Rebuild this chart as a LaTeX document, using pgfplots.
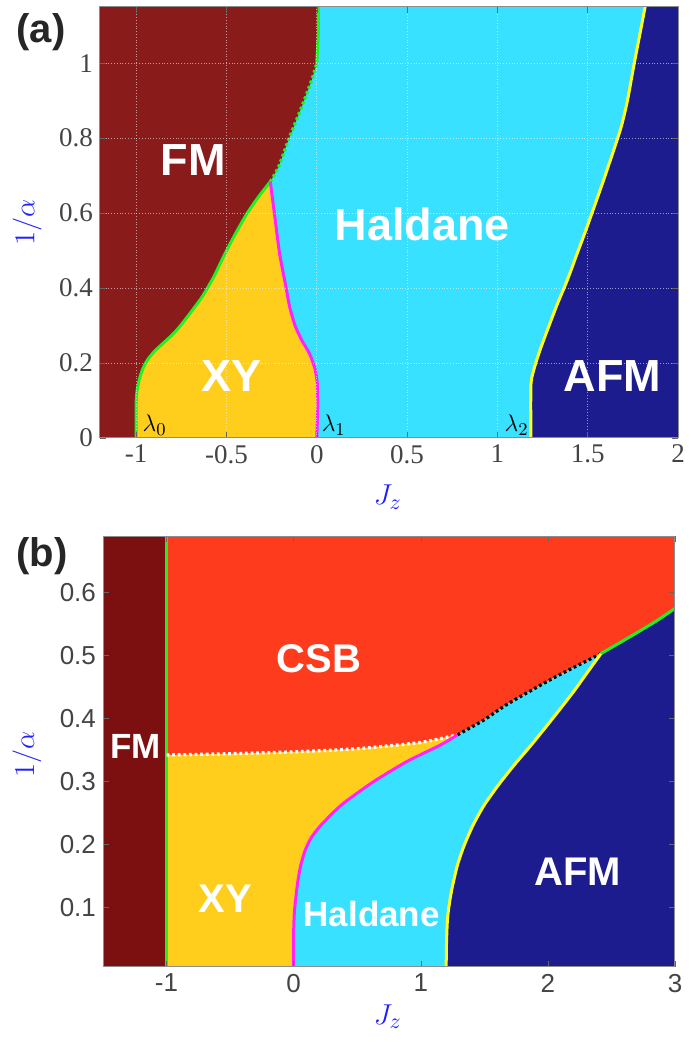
\documentclass[border=0pt]{standalone}
\usepackage{pgfplots}
\pgfplotsset{compat=1.18}
\usepackage{fontspec}
\setmainfont{Liberation Sans}
\newfontfamily\serifticks{Liberation Serif}
\definecolor{fmc}{HTML}{891B1B}
\definecolor{fmb}{HTML}{7C0F0F}
\definecolor{halc}{HTML}{38E1FF}
\definecolor{xyc}{HTML}{FFCE1C}
\definecolor{afmc}{HTML}{1C1C8E}
\definecolor{csbc}{HTML}{FF3B1E}
\definecolor{grn}{HTML}{22F022}
\definecolor{mag}{HTML}{FF22FF}
\definecolor{yel}{HTML}{FFFF22}
\definecolor{tickc}{HTML}{444444}
\definecolor{lblue}{HTML}{1F1FFF}
\begin{document}
\begin{tikzpicture}[x=1pt,y=1pt]
\path[use as bounding box] (0,0) rectangle (346,525);
\node[font=\bfseries\fontsize{20}{20}\selectfont, text=black!85] at (20.5,509) {(a)};
\node[font=\bfseries\fontsize{20}{20}\selectfont, text=black!85] at (21,247) {(b)};

% ---------------- panel (a) ----------------
\begin{axis}[at={(50pt,306pt)}, anchor=south west, scale only axis,
  width=289pt, height=215.5pt,
  xmin=-1.2, xmax=2, ymin=0, ymax=1.15,
  xtick={-1,-0.5,0,0.5,1,1.5,2}, ytick={0,0.2,0.4,0.6,0.8,1},
  xticklabels={-1,-0.5,0,0.5,1,1.5,2},
  yticklabels={0,0.2,0.4,0.6,0.8,1},
  axis on top, grid=major,
  grid style={white, opacity=0.55, densely dotted, line width=0.5pt},
  tick align=inside, major tick length=3pt,
  tick style={black!60},
  axis line style={black!45, line width=0.5pt},
  tick label style={font=\fontsize{13.5}{13.5}\selectfont\serifticks, text=tickc},
  /pgf/number format/assume math mode=true,
  xlabel={$J_z$}, ylabel={$1/\alpha$},
  every axis x label/.append style={at={(axis description cs:0.498,-0.137)}, anchor=center, text=lblue, font=\fontsize{15}{15}\selectfont},
  every axis y label/.append style={at={(axis description cs:-0.126,0.5)}, anchor=center, rotate=0, text=lblue, font=\fontsize{15}{15}\selectfont},
  clip=true]
% Haldane background
\addplot[fill=halc, draw=none] coordinates {(-1.2,0) (2,0) (2,1.15) (-1.2,1.15)} -- cycle;
% FM
\addplot[fill=fmc, draw=none] coordinates {(-1.2,0) (-1,0) (-1,0.09) (-0.995,0.125) (-0.983,0.155) (-0.963,0.185) (-0.935,0.21) (-0.895,0.233) (-0.85,0.253) (-0.79,0.28) (-0.744,0.306) (-0.69,0.34) (-0.634,0.377) (-0.57,0.43) (-0.51,0.49) (-0.45,0.545) (-0.386,0.599) (-0.32,0.645) (-0.257,0.684) (-0.211,0.724) (-0.152,0.801) (-0.083,0.884) (-0.028,0.955) (0.0,0.999) (0.009,1.08) (0.009,1.15) (-1.2,1.15)} -- cycle;
% XY
\addplot[fill=xyc, draw=none] coordinates {(-1,0) (-1,0.09) (-0.995,0.125) (-0.983,0.155) (-0.963,0.185) (-0.935,0.21) (-0.895,0.233) (-0.85,0.253) (-0.79,0.28) (-0.744,0.306) (-0.69,0.34) (-0.634,0.377) (-0.57,0.43) (-0.51,0.49) (-0.45,0.545) (-0.386,0.599) (-0.32,0.645) (-0.257,0.684) (-0.232,0.59) (-0.205,0.49) (-0.174,0.412) (-0.15,0.35) (-0.12,0.30) (-0.083,0.261) (-0.04,0.225) (-0.01,0.185) (0.003,0.146) (0.006,0.09) (0.003,0.04) (0,0)} -- cycle;
% AFM
\addplot[fill=afmc, draw=none] coordinates {(1.185,0) (1.185,0.128) (1.19,0.16) (1.212,0.199) (1.24,0.24) (1.277,0.288) (1.33,0.355) (1.387,0.421) (1.44,0.49) (1.497,0.564) (1.588,0.688) (1.68,0.821) (1.72,0.9) (1.754,0.99) (1.818,1.15) (2,1.15) (2,0)} -- cycle;
% boundaries
\addplot[grn, line width=1.5pt, smooth, tension=0.4] coordinates {(-1,0) (-1,0.09) (-0.995,0.125) (-0.983,0.155) (-0.963,0.185) (-0.935,0.21) (-0.895,0.233) (-0.85,0.253) (-0.79,0.28) (-0.744,0.306) (-0.69,0.34) (-0.634,0.377) (-0.57,0.43) (-0.51,0.49) (-0.45,0.545) (-0.386,0.599) (-0.32,0.645) (-0.257,0.684)};
\addplot[grn, line width=1.6pt, dash pattern=on 1.4pt off 1.4pt, smooth, tension=0.4] coordinates {(-0.257,0.684) (-0.211,0.724) (-0.152,0.801) (-0.083,0.884) (-0.028,0.955) (0.0,0.999)};
\addplot[grn, line width=1.5pt] coordinates {(0.0,0.999) (0.009,1.08) (0.009,1.15)};
\addplot[mag, line width=1.5pt, smooth, tension=0.4] coordinates {(-0.257,0.684) (-0.232,0.59) (-0.205,0.49) (-0.174,0.412) (-0.15,0.35) (-0.12,0.30) (-0.083,0.261) (-0.04,0.225) (-0.01,0.185) (0.003,0.146) (0.006,0.09) (0.003,0.04) (0,0)};
\addplot[yel, line width=1.5pt, smooth, tension=0.4] coordinates {(1.185,0) (1.185,0.128) (1.19,0.16) (1.212,0.199) (1.24,0.24) (1.277,0.288) (1.33,0.355) (1.387,0.421) (1.44,0.49) (1.497,0.564) (1.588,0.688) (1.68,0.821) (1.72,0.9) (1.754,0.99) (1.818,1.15)};
% labels
\begin{scope}[every node/.style={text=white, font=\bfseries\fontsize{22.5}{22.5}\selectfont}]
\node at (axis cs:-0.683,0.741) {FM};
\node at (axis cs:-0.474,0.165) {XY};
\node at (axis cs:0.584,0.571) {Haldane};
\node at (axis cs:1.637,0.165) {AFM};
\end{scope}
\node[font=\fontsize{12.5}{12.5}\selectfont] at (axis cs:-0.898,0.035) {$\lambda_0$};
\node[font=\fontsize{12.5}{12.5}\selectfont] at (axis cs:0.094,0.035) {$\lambda_1$};
\node[font=\fontsize{12.5}{12.5}\selectfont] at (axis cs:1.107,0.035) {$\lambda_2$};
\end{axis}

% ---------------- panel (b) ----------------
\begin{axis}[at={(51.5pt,41.5pt)}, anchor=south west, scale only axis,
  width=286pt, height=215.5pt,
  xmin=-1.5, xmax=3, ymin=0.005, ymax=0.69,
  xtick={-1,0,1,2,3}, ytick={0.1,0.2,0.3,0.4,0.5,0.6},
  xticklabels={-1,0,1,2,3},
  yticklabels={0.1,0.2,0.3,0.4,0.5,0.6},
  axis on top,
  tick align=inside, major tick length=3pt,
  tick style={black!60},
  axis line style={black!45, line width=0.5pt},
  tick label style={font=\fontsize{13}{13}\selectfont, text=tickc},
  /pgf/number format/assume math mode=true,
  xlabel={$J_z$}, ylabel={$1/\alpha$},
  every axis x label/.append style={at={(axis description cs:0.498,-0.116)}, anchor=center, text=lblue, font=\fontsize{15}{15}\selectfont},
  every axis y label/.append style={at={(axis description cs:-0.133,0.494)}, anchor=center, rotate=0, text=lblue, font=\fontsize{15}{15}\selectfont},
  clip=true]
% CSB background
\addplot[fill=csbc, draw=none] coordinates {(-1.5,0.005) (3,0.005) (3,0.69) (-1.5,0.69)} -- cycle;
% XY
\addplot[fill=xyc, draw=none] coordinates {(-1,0.005) (-1,0.342) (-0.5,0.344) (0,0.347) (0.5,0.352) (1.0,0.362) (1.289,0.374) (1.5,0.398) (1.683,0.423) (2.05,0.465) (2.417,0.503) (2.58,0.522) (2.732,0.540) (2.87,0.557) (3,0.575) (3,0.005)} -- cycle;
% Haldane
\addplot[fill=halc, draw=none] coordinates {(0,0.005) (0,0.06) (0.005,0.09) (0.016,0.113) (0.032,0.14) (0.055,0.166) (0.09,0.19) (0.134,0.209) (0.2,0.227) (0.265,0.241) (0.34,0.256) (0.423,0.27) (0.632,0.30) (0.895,0.332) (1.157,0.358) (1.289,0.374) (1.5,0.398) (1.683,0.423) (2.05,0.465) (2.417,0.503) (2.58,0.522) (2.732,0.540) (2.87,0.557) (3,0.575) (3,0.005)} -- cycle;
% AFM
\addplot[fill=afmc, draw=none] coordinates {(1.2,0.005) (1.202,0.04) (1.21,0.081) (1.228,0.11) (1.25,0.134) (1.29,0.168) (1.341,0.198) (1.41,0.23) (1.498,0.262) (1.61,0.294) (1.735,0.326) (1.87,0.358) (1.998,0.39) (2.1,0.416) (2.207,0.444) (2.31,0.473) (2.417,0.503) (2.58,0.522) (2.732,0.540) (2.87,0.557) (3,0.575) (3,0.005)} -- cycle;
% FM
\addplot[fill=fmb, draw=none] coordinates {(-1.5,0.005) (-1,0.005) (-1,0.69) (-1.5,0.69)} -- cycle;
% boundaries
\addplot[grn, line width=1.5pt] coordinates {(-1,0.005) (-1,0.69)};
\addplot[white, line width=1.6pt, dash pattern=on 1.4pt off 1.4pt, smooth, tension=0.4] coordinates {(-1,0.342) (-0.5,0.344) (0,0.347) (0.5,0.352) (1.0,0.362) (1.289,0.374)};
\addplot[black, line width=1.6pt, dash pattern=on 1.4pt off 1.4pt, smooth, tension=0.4] coordinates {(1.289,0.374) (1.5,0.398) (1.683,0.423) (2.05,0.465) (2.417,0.503)};
\addplot[grn, line width=1.5pt, smooth, tension=0.4] coordinates {(2.417,0.503) (2.58,0.522) (2.732,0.540) (2.87,0.557) (3,0.575)};
\addplot[mag, line width=1.5pt, smooth, tension=0.4] coordinates {(0,0.005) (0,0.06) (0.005,0.09) (0.016,0.113) (0.032,0.14) (0.055,0.166) (0.09,0.19) (0.134,0.209) (0.2,0.227) (0.265,0.241) (0.34,0.256) (0.423,0.27) (0.632,0.30) (0.895,0.332) (1.157,0.358) (1.289,0.374)};
\addplot[yel, line width=1.5pt, smooth, tension=0.4] coordinates {(1.2,0.005) (1.202,0.04) (1.21,0.081) (1.228,0.11) (1.25,0.134) (1.29,0.168) (1.341,0.198) (1.41,0.23) (1.498,0.262) (1.61,0.294) (1.735,0.326) (1.87,0.358) (1.998,0.39) (2.1,0.416) (2.207,0.444) (2.31,0.473) (2.417,0.503)};
% labels
\node[text=white, font=\bfseries\fontsize{20}{20}\selectfont] at (axis cs:0.197,0.495) {CSB};
\node[text=white, font=\bfseries\fontsize{17.5}{17.5}\selectfont] at (axis cs:-1.244,0.355) {FM};
\node[text=white, font=\bfseries\fontsize{20}{20}\selectfont] at (axis cs:-0.535,0.114) {XY};
\node[text=white, font=\bfseries\fontsize{17.5}{17.5}\selectfont] at (axis cs:0.614,0.09) {Haldane};
\node[text=white, font=\bfseries\fontsize{20}{20}\selectfont] at (axis cs:2.236,0.156) {AFM};
\end{axis}
\end{tikzpicture}
\end{document}
